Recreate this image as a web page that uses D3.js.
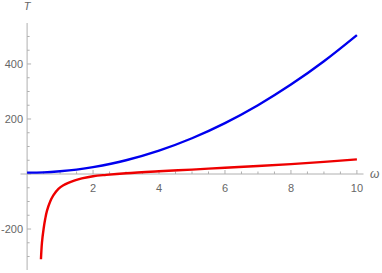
<!DOCTYPE html>
<html>
<head>
<meta charset="utf-8">
<script src="https://cdn.jsdelivr.net/npm/d3@7"></script>
<style>
  body { margin: 0; background: #fff; }
  text { font-family: "Liberation Sans", Arial, sans-serif; }
</style>
</head>
<body>
<svg id="chart" width="382" height="273"></svg>
<script>
// values
var blueW = [0, 0.5, 1, 1.5, 2, 3, 4, 5, 6, 7, 8, 9, 10];
var blueT = [5, 6, 10, 16, 25, 50, 85, 130, 185, 250, 325, 410, 505];

var redW = [0.42, 0.45, 0.5, 0.55, 0.6, 0.7, 0.8, 0.95, 1.1, 1.25, 1.45, 1.66, 2, 2.4, 3, 4, 5, 6, 7, 8, 9, 10];
var redT = [-310, -250, -200, -163, -135, -100, -77, -54, -41, -32, -23, -16, -8, -3, 3, 10, 16, 23, 29, 36, 44, 53];

var xTickLabels = [2, 4, 6, 8, 10];
var yTickLabels = [-200, 200, 400];

var svg = d3.select('#chart');

var x = d3.scaleLinear().domain([-0.2, 10.2]).range([20.5, 363.5]);
var y = d3.scaleLinear().domain([549, -349]).range([23, 270]);

var axisColor = '#b0b0b0';
var textColor = '#666';

// axis lines
svg.append('line')
    .attr('x1', x(-0.2)).attr('x2', x(10.2))
    .attr('y1', y(0)).attr('y2', y(0))
    .attr('stroke', axisColor);
svg.append('line')
    .attr('x1', x(0)).attr('x2', x(0))
    .attr('y1', y(549)).attr('y2', y(-349))
    .attr('stroke', axisColor);

// x ticks (pointing up)
var xMinor = d3.range(0.5, 10.01, 0.5);
svg.selectAll('.xt').data(xMinor).enter().append('line')
    .attr('x1', d => x(d)).attr('x2', d => x(d))
    .attr('y1', y(0))
    .attr('y2', d => y(0) - (d % 2 === 0 ? 4 : 2.5))
    .attr('stroke', axisColor);
svg.selectAll('.xl').data(xTickLabels).enter().append('text')
    .attr('x', d => x(d)).attr('y', y(0) + 18)
    .attr('text-anchor', 'middle')
    .attr('font-size', 11).attr('fill', textColor)
    .text(d => d);

// y ticks (pointing right)
var yMinor = d3.range(-300, 501, 50);
svg.selectAll('.yt').data(yMinor).enter().append('line')
    .attr('x1', x(0))
    .attr('x2', d => x(0) + (d % 200 === 0 ? 4 : 2.5))
    .attr('y1', d => y(d)).attr('y2', d => y(d))
    .attr('stroke', axisColor);
svg.selectAll('.yl').data(yTickLabels).enter().append('text')
    .attr('x', x(0) - 4).attr('y', d => y(d) + 4)
    .attr('text-anchor', 'end')
    .attr('font-size', 11).attr('fill', textColor)
    .text(d => d);

// axis labels
svg.append('text')
    .attr('x', x(0)).attr('y', 10)
    .attr('text-anchor', 'middle')
    .attr('font-size', 11).attr('font-style', 'italic').attr('fill', textColor)
    .text('T');
svg.append('text')
    .attr('x', 370).attr('y', y(0) + 4)
    .attr('font-size', 12).attr('font-style', 'italic').attr('fill', textColor)
    .text('ω');

var line = d3.line()
    .x(d => x(d[0]))
    .y(d => y(d[1]))
    .curve(d3.curveCatmullRom);

svg.append('path')
    .attr('d', line(d3.zip(blueW, blueT)))
    .attr('fill', 'none').attr('stroke', '#0000ee').attr('stroke-width', 2.4);

svg.append('path')
    .attr('d', line(d3.zip(redW, redT)))
    .attr('fill', 'none').attr('stroke', '#ee0000').attr('stroke-width', 2.4);
</script>
</body>
</html>
